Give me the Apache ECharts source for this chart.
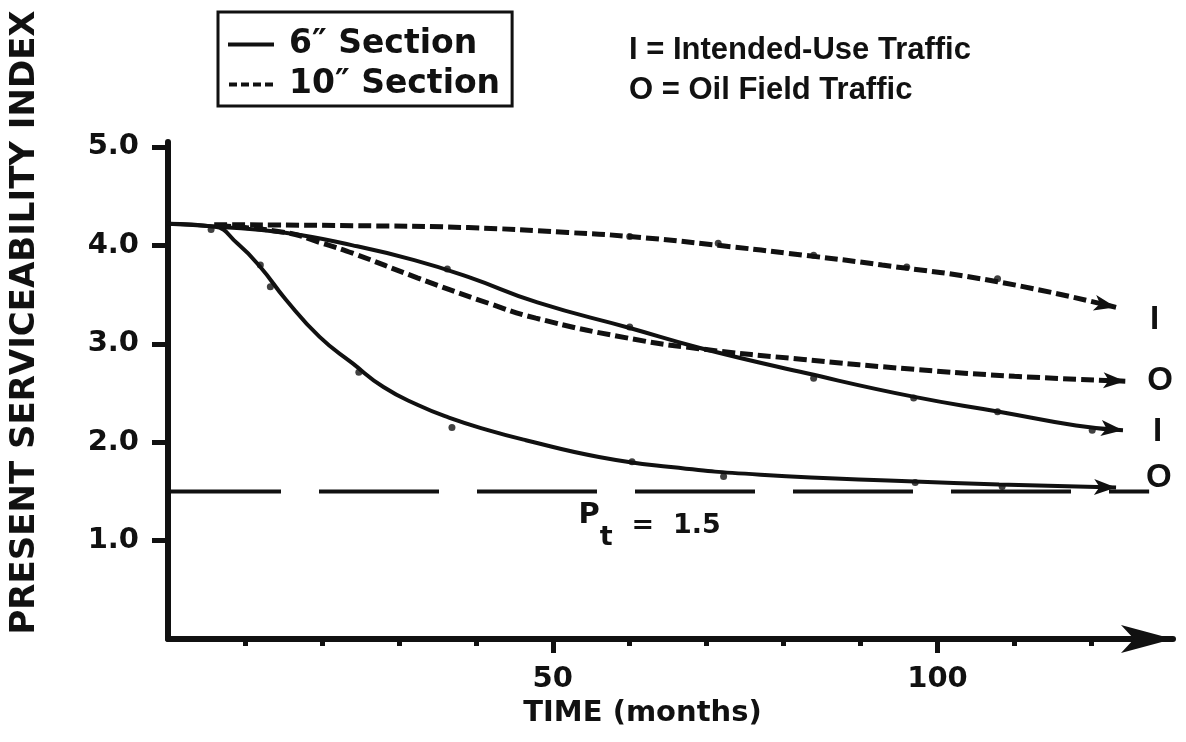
<!DOCTYPE html>
<html>
<head>
<meta charset="utf-8">
<title>Present Serviceability Index vs Time</title>
<script src="https://cdn.jsdelivr.net/npm/echarts@6/dist/echarts.min.js"></script>
<style>
  html, body { margin: 0; padding: 0; background: #fff; }
  #chart { width: 1186px; height: 742px; }
</style>
</head>
<body>
<div id="chart"></div>
<script>
// curves: months / PSI
const sixInchIntendedMonths = [0, 6.5, 15, 24, 32, 39, 48, 60, 69, 83, 97, 108, 118, 124.1];
const sixInchIntendedPsi    = [4.22, 4.19, 4.13, 4.00, 3.85, 3.68, 3.42, 3.16, 2.96, 2.70, 2.46, 2.31, 2.17, 2.12];

const sixInchOilMonths = [0, 6, 9, 12, 15.3, 19.7, 24, 28, 32.4, 36.5, 41.7, 46.5, 56, 65, 77, 97, 108, 123.2];
const sixInchOilPsi    = [4.22, 4.19, 4.02, 3.78, 3.45, 3.07, 2.80, 2.56, 2.38, 2.25, 2.12, 2.02, 1.85, 1.75, 1.67, 1.60, 1.57, 1.54];

const tenInchIntendedMonths = [6, 24, 39, 52, 60, 71.5, 82.6, 92.8, 107.8, 123.2];
const tenInchIntendedPsi    = [4.21, 4.20, 4.18, 4.13, 4.09, 4.00, 3.90, 3.80, 3.63, 3.37];

const tenInchOilMonths = [6.5, 15.3, 19.7, 24, 32.4, 41.7, 47.8, 59.6, 69, 82.6, 97, 110, 124.4];
const tenInchOilPsi    = [4.20, 4.13, 4.03, 3.92, 3.67, 3.41, 3.26, 3.06, 2.95, 2.84, 2.74, 2.67, 2.62];

// measured points (the dots)
const obsMonths = [5.6, 12.0, 13.3, 24.8, 36.9, 36.3, 60.0, 60.3, 72.2, 71.5, 60.0, 83.9, 96.0, 107.8, 83.9, 96.9, 107.8, 120.1, 97.1, 108.4];
const obsPsi    = [4.16, 3.80, 3.58, 2.71, 2.15, 3.76, 3.17, 1.80, 1.65, 4.02, 4.09, 3.90, 3.78, 3.66, 2.65, 2.45, 2.31, 2.12, 1.59, 1.55];

// terminal serviceability
const terminalPsi = 1.5;
const terminalMonths = [0, 127.5];

// axis ticks
const yTicks = [1, 2, 3, 4, 5];
const xLabelTicks = [50, 100];
const xMinorTicks = [10, 20, 30, 40, 60, 70, 80, 90, 110, 120];

const sixName = '6″ Section';
const tenName = '10″ Section';
const curveTags = ['I', 'O', 'I', 'O'];

const FONT = 'DejaVu Sans';
const HELV = 'Liberation Sans';
const INK = '#111';

const chart = echarts.init(document.getElementById('chart'));

function curveData(months, psi, rotate) {
    return months.map((m, i) => {
        if (i < months.length - 1) return [m, psi[i]];
        return { value: [m, psi[i]], symbol: 'arrow', symbolSize: [12, 22], symbolRotate: rotate || -90 };
    });
}

function curve(name, months, psi, dashed, tag, distance, offset) {
    return {
        type: 'line',
        name: name,
        data: curveData(months, psi),
        smooth: 0.5,
        symbol: 'none',
        showSymbol: true,
        itemStyle: { color: INK, borderWidth: 0 },
        lineStyle: { color: INK, width: dashed ? 5 : 4, type: dashed ? [13, 5] : 'solid' },
        endLabel: {
            show: true, formatter: tag, distance: distance, offset: offset,
            fontFamily: HELV, fontSize: 33, fontWeight: 'bold', color: INK
        },
        z: 3
    };
}

const curves = [
    [sixName, sixInchIntendedMonths, sixInchIntendedPsi, false, curveTags[0], 30, [0, 2]],
    [sixName, sixInchOilMonths, sixInchOilPsi, false, curveTags[1], 30, [0, -10]],
    [tenName, tenInchIntendedMonths, tenInchIntendedPsi, true, curveTags[2], 34, [0, 13]],
    [tenName, tenInchOilMonths, tenInchOilPsi, true, curveTags[3], 22, [0, 0]]
];

const solidIcon = 'path://M0,0H46V4H0Z';
const dashIcon = 'path://M0,0H8V4H0Z M12,0H20V4H12Z M24,0H32V4H24Z M36,0H44V4H36Z';

const option = {
    animation: false,
    backgroundColor: '#fff',
    textStyle: { fontFamily: FONT, color: INK },
    grid: { left: 150, right: 13, top: 142, bottom: 103 },
    title: {
        text: 'I = Intended-Use Traffic\nO = Oil Field Traffic',
        left: 624, top: 25,
        textStyle: { fontFamily: HELV, fontSize: 31, fontWeight: 'bold', lineHeight: 40, color: INK }
    },
    legend: {
        data: [{ name: sixName, icon: solidIcon }, { name: tenName, icon: dashIcon }],
        orient: 'vertical',
        left: 218, top: 12,
        padding: [16, 12, 5, 10],
        borderColor: INK, borderWidth: 3,
        itemWidth: 46, itemHeight: 4, itemGap: 7,
        textStyle: { fontFamily: FONT, fontSize: 33, fontWeight: 'bold', color: INK, padding: [0, 0, 0, 10] }
    },
    xAxis: [{
        type: 'value', min: 0, max: 130.6,
        name: 'TIME (months)', nameLocation: 'middle', nameGap: 58,
        nameTextStyle: { fontFamily: FONT, fontSize: 29, fontWeight: 'bold', color: INK, padding: [0, 56, 0, 0] },
        axisLine: { lineStyle: { color: INK, width: 6 }, symbol: ['none', 'arrow'], symbolSize: [21, 52] },
        axisTick: { customValues: xLabelTicks, inside: false, length: 14, lineStyle: { color: INK, width: 5 } },
        axisLabel: { customValues: xLabelTicks, margin: 26, fontFamily: FONT, fontSize: 29, fontWeight: 'bold', color: INK },
        splitLine: { show: false }
    }, {
        type: 'value', min: 0, max: 130.6, position: 'bottom',
        axisLine: { show: false },
        axisTick: { customValues: xMinorTicks, inside: false, length: 7, lineStyle: { color: INK, width: 5 } },
        axisLabel: { show: false },
        splitLine: { show: false }
    }],
    yAxis: {
        type: 'value', min: 0, max: 5.05,
        name: 'PRESENT SERVICEABILITY INDEX', nameLocation: 'middle', nameRotate: 90, nameGap: 126,
        nameTextStyle: { fontFamily: FONT, fontSize: 34, fontWeight: 'bold', color: INK, padding: [0, 0, 0, 136] },
        axisLine: { lineStyle: { color: INK, width: 6 } },
        axisTick: { customValues: yTicks, inside: false, length: 16, lineStyle: { color: INK, width: 5 } },
        axisLabel: {
            customValues: yTicks, margin: 29, formatter: v => v.toFixed(1),
            fontFamily: FONT, fontSize: 29, fontWeight: 'bold', color: INK
        },
        splitLine: { show: false }
    },
    series: curves.map(c => curve.apply(null, c)).concat([{
        type: 'line',
        name: 'Pt',
        data: terminalMonths.map(m => [m, terminalPsi]),
        symbol: 'none',
        lineStyle: { color: INK, width: 4, type: [120, 38], dashOffset: 7 },
        markPoint: {
            symbol: 'circle', symbolSize: 0,
            data: [{ coord: [62.6, terminalPsi] }],
            label: {
                show: true, position: 'bottom', distance: 10,
                formatter: '{p|P}{s|t}{e|  =  ' + terminalPsi.toFixed(1) + '}',
                rich: {
                    p: { fontFamily: FONT, fontSize: 29, fontWeight: 'bold', color: INK, lineHeight: 30, verticalAlign: 'top' },
                    s: { fontFamily: FONT, fontSize: 27, fontWeight: 'bold', color: INK, lineHeight: 30, verticalAlign: 'bottom' },
                    e: { fontFamily: FONT, fontSize: 27, fontWeight: 'bold', color: INK, lineHeight: 50, verticalAlign: 'middle' }
                }
            }
        },
        z: 2
    }, {
        type: 'scatter',
        name: 'observed',
        data: obsMonths.map((m, i) => [m, obsPsi[i]]),
        symbolSize: 7,
        itemStyle: { color: INK },
        z: 4
    }])
};

chart.setOption(option);

// point each arrow head along the end of its curve
function endRotate(months, psi) {
    const n = months.length;
    const a = chart.convertToPixel({ gridIndex: 0 }, [months[n - 2], psi[n - 2]]);
    const b = chart.convertToPixel({ gridIndex: 0 }, [months[n - 1], psi[n - 1]]);
    return Math.atan2(a[1] - b[1], b[0] - a[0]) * 180 / Math.PI - 90;
}

chart.setOption({
    series: curves.map(c => ({ data: curveData(c[1], c[2], endRotate(c[1], c[2])) }))
});
</script>
</body>
</html>
